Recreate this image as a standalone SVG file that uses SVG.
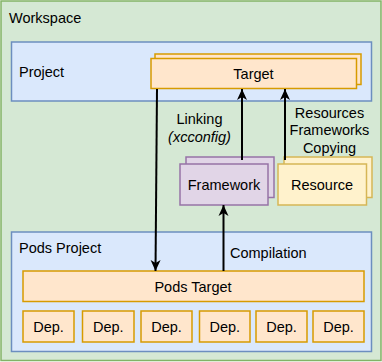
<svg xmlns="http://www.w3.org/2000/svg" width="382" height="362" viewBox="0 0 382 362">
<style>
text{font-family:"Liberation Sans",Arial,Helvetica,sans-serif;font-size:14.5px;fill:#000}
.c{text-anchor:middle;dominant-baseline:central}
.l{dominant-baseline:central}
.ws{fill:#d5e8d4;stroke:#82b366;stroke-width:1.5}
.pr{fill:#dae8fc;stroke:#6c8ebf;stroke-width:1.5}
.or{fill:#ffe6cc;stroke:#d79b00;stroke-width:1.5}
.pu{fill:#e1d5e7;stroke:#9673a6;stroke-width:1.5}
.ye{fill:#fff2cc;stroke:#d6b656;stroke-width:1.5}
.ed{fill:none;stroke:#000;stroke-width:2}
</style>
<defs>
<marker id="ah" markerUnits="userSpaceOnUse" markerWidth="12" markerHeight="12" viewBox="0 0 12 12" refX="11" refY="6" orient="auto">
<path d="M0,1 L11,6 L0,11 L3,6 z" fill="#000"/>
</marker>
</defs>
<g id="workspace">
<rect class="ws" x="1" y="1" width="380" height="359.5"/>
<text class="l" x="9" y="17.5">Workspace</text>
</g>
<g id="project">
<rect class="pr" x="11.5" y="42" width="360" height="59"/>
<text class="l" x="19" y="72">Project</text>
</g>
<g id="target">
<rect class="or" x="155" y="54" width="206" height="30.5"/>
<rect class="or" x="151" y="58.5" width="205.5" height="30"/>
<text class="c" x="253.5" y="74">Target</text>
</g>
<g id="framework">
<rect class="pu" x="186" y="157" width="88" height="40.5"/>
<rect class="pu" x="180" y="164" width="88" height="41"/>
<text class="c" x="224" y="185">Framework</text>
</g>
<g id="resource">
<rect class="ye" x="284" y="157" width="88" height="40.5"/>
<rect class="ye" x="278" y="164" width="88.5" height="41"/>
<text class="c" x="322" y="185">Resource</text>
</g>
<g id="pods-project">
<rect class="pr" x="11.5" y="232" width="360" height="119.5"/>
<text class="l" x="19" y="248">Pods Project</text>
</g>
<g id="pods-target">
<rect class="or" x="23" y="271" width="341" height="30.5"/>
<text class="c" x="193" y="286.5">Pods Target</text>
</g>
<g id="dep1"><rect class="or" x="23" y="311" width="51" height="31"/><text class="c" x="48.5" y="327">Dep.</text></g>
<g id="dep2"><rect class="or" x="82.5" y="311" width="51.5" height="31"/><text class="c" x="108.3" y="327">Dep.</text></g>
<g id="dep3"><rect class="or" x="141" y="311" width="51" height="31"/><text class="c" x="166.5" y="327">Dep.</text></g>
<g id="dep4"><rect class="or" x="199.5" y="311" width="50.5" height="31"/><text class="c" x="224.8" y="327">Dep.</text></g>
<g id="dep5"><rect class="or" x="256" y="311" width="51" height="31"/><text class="c" x="281.5" y="327">Dep.</text></g>
<g id="dep6"><rect class="or" x="313" y="311" width="51" height="31"/><text class="c" x="338.5" y="327">Dep.</text></g>
<g id="connectors">
<path class="ed" d="M157,89 L155.5,271" marker-end="url(#ah)"/>
<path class="ed" d="M242,160 L242,89" marker-end="url(#ah)"/>
<path class="ed" d="M285,160 L285,89" marker-end="url(#ah)"/>
<path class="ed" d="M223.5,271 L223.5,205" marker-end="url(#ah)"/>
<text class="c" x="199.5" y="118.5">Linking</text>
<text class="c" x="199.5" y="136.5" font-style="italic">(xcconfig)</text>
<text class="c" x="329.5" y="112.5">Resources</text>
<text class="c" x="329.5" y="130">Frameworks</text>
<text class="c" x="329.5" y="148">Copying</text>
<text class="l" x="230" y="252.5">Compilation</text>
</g>
</svg>
